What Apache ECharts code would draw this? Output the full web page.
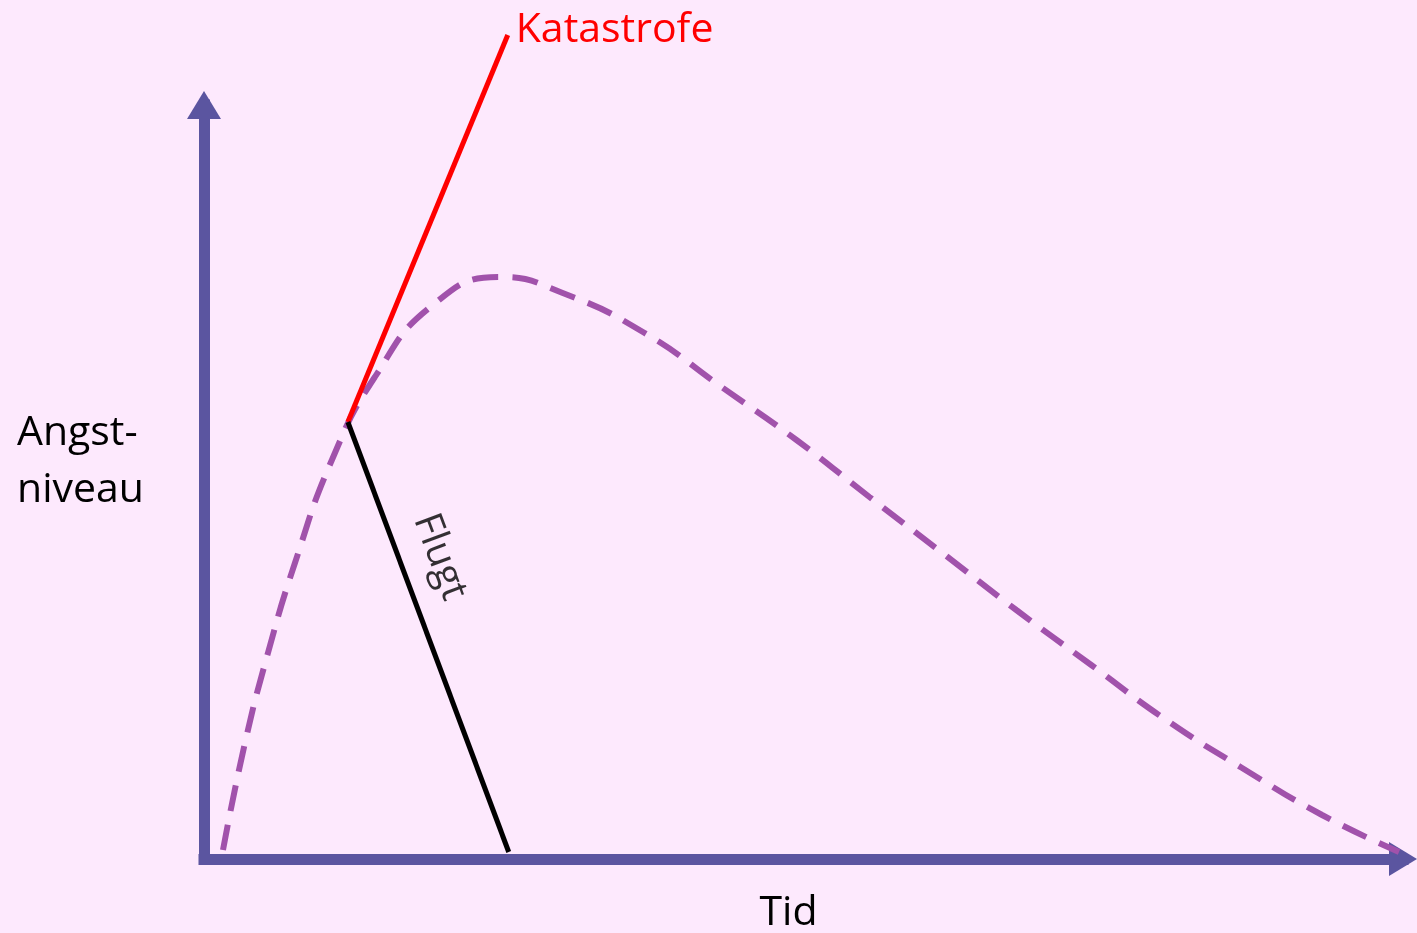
<!DOCTYPE html>
<html>
<head>
<meta charset="utf-8">
<title>Angstniveau over tid</title>
<script src="https://cdn.jsdelivr.net/npm/echarts@6/dist/echarts.min.js"></script>
<style>
  html, body { margin: 0; padding: 0; background: #fde9fd; }
  #chart { width: 1417px; height: 933px; }
</style>
</head>
<body>
<div id="chart"></div>
<script>
// angst-kurve (tid, niveau)
const curveX = [1.9, 4.1, 6.4, 9.1, 12.8, 17.1, 22.9, 29.6, 35.9, 44.1, 51.8, 59.3, 66.6,
  73.9, 81.3, 88.8, 96.3, 103.9, 111.9, 119.6];
const curveY = [0.9, 11.6, 20.6, 29.6, 39.9, 48.2, 55.4, 58.2, 56.6, 52.6, 47.2, 41.9, 36.2,
  30.6, 24.9, 19.4, 13.9, 9.1, 4.4, 0.7];

// katastrofe- og flugtlinjer
const katastrofe = [[14.4, 43.7], [30.4, 82.4]];
const flugt = [[14.4, 43.7], [30.5, 0.7]];
const flugtLabelPos = [23.6, 30.2];

const xName = 'Tid';
const yName = 'Angst-\nniveau';

const axisColor = '#5b55a0';
const font = '"Open Sans", sans-serif';

const chart = echarts.init(document.getElementById('chart'));

const axisCommon = {
  type: 'value',
  axisTick: { show: false },
  axisLabel: { show: false },
  splitLine: { show: false },
  axisLine: {
    show: true,
    symbol: ['none', 'triangle'],
    symbolSize: [34, 28],
    lineStyle: { color: axisColor, width: 11, cap: 'square' }
  }
};

chart.setOption({
  backgroundColor: '#fde9fd',
  animation: false,
  grid: { left: 204, right: 14, top: 105, bottom: 74, outerBoundsMode: 'none' },
  xAxis: {
    ...axisCommon,
    min: 0,
    max: 120,
    name: xName,
    nameLocation: 'middle',
    nameGap: 34,
    nameTextStyle: { fontFamily: font, fontSize: 41, color: '#000', verticalAlign: 'top', padding: [0, 30, 0, 0] }
  },
  yAxis: {
    ...axisCommon,
    min: 0,
    max: 75.4,
    // en lav tom linje til sidst løfter teksten lidt op
    name: yName + '\n{s| }',
    nameLocation: 'middle',
    nameRotate: 0,
    nameGap: 187,
    nameTextStyle: {
      fontFamily: font, fontSize: 41, color: '#000', align: 'left', lineHeight: 57,
      rich: { s: { fontSize: 10, lineHeight: 40 } }
    }
  },
  series: [
    {
      type: 'line',
      data: curveX.map((x, i) => [x, curveY[i]]),
      smooth: 0.5,
      showSymbol: false,
      lineStyle: { color: '#a152ab', width: 6, type: [26, 14] },
      z: 2
    },
    {
      type: 'line',
      data: katastrofe,
      clip: false,
      showSymbol: false,
      lineStyle: { color: '#ff0000', width: 5 },
      endLabel: {
        show: true,
        formatter: 'Katastrofe',
        color: '#ff0000',
        fontFamily: font,
        fontSize: 41,
        distance: 8,
        offset: [0, -5]
      },
      z: 3
    },
    {
      type: 'line',
      data: flugt,
      clip: false,
      showSymbol: false,
      lineStyle: { color: '#000', width: 5 },
      z: 3
    },
    {
      type: 'scatter',
      data: [flugtLabelPos],
      symbolSize: 0,
      label: {
        show: true,
        position: 'inside',
        formatter: 'Flugt',
        rotate: -69.5,
        color: '#000',
        fontFamily: font,
        fontSize: 39
      }
    }
  ]
});
</script>
</body>
</html>
